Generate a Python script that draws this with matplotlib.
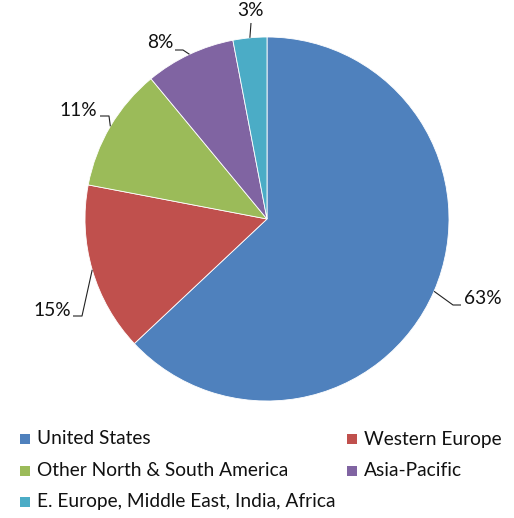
import matplotlib.pyplot as plt
from matplotlib.patches import Rectangle
import numpy as np

regions = ["United States", "Western Europe", "Other North & South America",
           "Asia-Pacific", "E. Europe, Middle East, India, Africa"]
shares = [63, 15, 11, 8, 3]
colors = ["#4F81BD", "#C0504D", "#9BBB59", "#8064A2", "#4BACC6"]

W, H = 514, 518
plt.rcParams['font.family'] = ['Lato', 'DejaVu Sans']

fig = plt.figure(figsize=(W / 100, H / 100), dpi=100)
ax = fig.add_axes([0, 0, 1, 1])


def py(y):
    # pixel row (top down) -> data y
    return H - y


cx, cy, r = 267, py(219), 182
wedges, _ = ax.pie(shares, colors=colors, startangle=90, counterclock=False,
                   center=(cx, cy), radius=r,
                   wedgeprops=dict(edgecolor='white', linewidth=0.6))
ax.set_xlim(0, W)
ax.set_ylim(0, H)
ax.axis('off')

# label layout: text anchor, elbow of the leader line, end next to the text, alignment
label_layout = [
    ((464, 299), (453, 305), (461, 305), 'left'),
    ((71, 311), (82, 316), (73, 316), 'right'),
    ((97, 110), (109, 116), (100, 116), 'right'),
    ((173, 43), (183, 50), (175, 50), 'right'),
    ((250, 11), (251, 23), (251, 23), 'center'),
]

for w, v, (txt, elbow, end, ha) in zip(wedges, shares, label_layout):
    mid = np.deg2rad((w.theta1 + w.theta2) / 2)
    ex, ey = cx + r * np.cos(mid), cy + r * np.sin(mid)
    ax.plot([ex, elbow[0], end[0]], [ey, py(elbow[1]), py(end[1])],
            color='#222222', lw=0.8, solid_capstyle='butt')
    ax.text(txt[0], py(txt[1]), f"{v}%", ha=ha, va='center',
            fontsize=13.8, color='#111111')

# legend, filled row by row
for i, (name, c) in enumerate(zip(regions, colors)):
    row, col = divmod(i, 2)
    y = py(439 + 31.5 * row)
    x0 = 20 if col == 0 else 347
    ax.add_patch(Rectangle((x0, y - 5), 10, 10, facecolor=c, edgecolor='none'))
    ax.text(x0 + 17, y, name, ha='left', va='center', fontsize=13.8,
            color='#111111')

fig.savefig('out.png', dpi=100)
